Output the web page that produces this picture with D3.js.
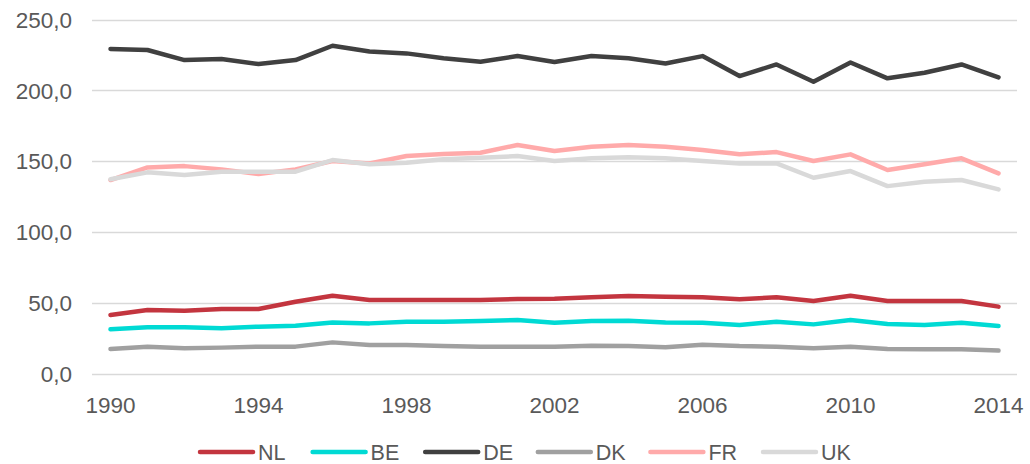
<!DOCTYPE html>
<html>
<head>
<meta charset="utf-8">
<script src="https://cdn.jsdelivr.net/npm/d3@7"></script>
<style>
  body { margin: 0; background: #fff; }
  svg { display: block; font-family: "Liberation Sans", Arial, sans-serif; }
</style>
</head>
<body>
<div id="chart"></div>
<script>
const years = d3.range(1990, 2015);
const xTickYears = [1990, 1994, 1998, 2002, 2006, 2010, 2014];
const yTicks = [0, 50, 100, 150, 200, 250];

const NL = [41.6, 45.1, 44.6, 45.8, 45.8, 51.0, 55.2, 52.2, 52.2, 52.2, 52.2, 52.9, 53.0,
            54.1, 55.0, 54.5, 54.1, 52.7, 54.1, 51.5, 55.2, 51.5, 51.5, 51.5, 47.5];
const BE = [31.5, 32.9, 32.9, 32.2, 33.4, 34.1, 36.4, 35.7, 36.9, 36.9, 37.4, 38.1, 36.2,
            37.4, 37.6, 36.4, 36.2, 34.5, 36.9, 35.0, 38.1, 35.3, 34.5, 36.2, 33.8];
const DE = [229.2, 228.5, 221.4, 222.1, 218.6, 221.4, 231.5, 227.5, 226.1, 222.6, 220.2, 224.2, 220.0,
            224.2, 222.6, 219.0, 224.2, 210.1, 218.3, 206.1, 219.7, 208.5, 212.4, 218.3, 209.2];
const DK = [17.6, 19.3, 18.1, 18.6, 19.3, 19.3, 22.3, 20.4, 20.4, 19.7, 19.3, 19.3, 19.3,
            20.0, 19.7, 18.8, 20.7, 19.7, 19.3, 18.1, 19.3, 17.6, 17.4, 17.4, 16.5];
const FR = [136.8, 145.7, 146.6, 144.3, 141.0, 144.3, 150.2, 148.5, 153.7, 155.1, 156.0, 161.5, 157.3,
            160.3, 161.5, 160.3, 158.0, 154.9, 156.5, 150.2, 154.9, 143.9, 147.9, 152.1, 141.5];
const UK = [137.3, 142.2, 140.3, 142.7, 142.7, 142.7, 150.9, 147.9, 149.0, 151.4, 152.5, 153.7, 150.2,
            152.1, 152.8, 152.1, 150.2, 148.5, 148.5, 138.4, 143.1, 132.5, 135.6, 136.8, 130.2];

const seriesNames = ["NL", "BE", "DE", "DK", "FR", "UK"];
const seriesValues = [NL, BE, DE, DK, FR, UK];
const colors = ["#C3353F", "#00DAD4", "#404040", "#A0A0A0", "#FFAAAA", "#D9D9D9"];

const width = 1030, height = 464;

const svg = d3.select("#chart").append("svg")
    .attr("width", width)
    .attr("height", height);

const x = d3.scalePoint().domain(years).range([92, 1017]).padding(0.5);
const y = d3.scaleLinear().domain([0, 250]).range([374, 19.5]);
const fmt = v => d3.format(".1f")(v).replace(".", ",");

// gridlines
svg.append("g")
    .selectAll("line")
    .data(yTicks)
    .join("line")
    .attr("x1", 92).attr("x2", 1017)
    .attr("y1", d => Math.round(y(d)) + 0.5)
    .attr("y2", d => Math.round(y(d)) + 0.5)
    .attr("stroke", "#D9D9D9")
    .attr("stroke-width", 1.3);

// y labels
svg.append("g")
    .selectAll("text")
    .data(yTicks)
    .join("text")
    .attr("x", 72)
    .attr("y", d => y(d))
    .attr("dy", "0.36em")
    .attr("text-anchor", "end")
    .attr("fill", "#595959")
    .attr("font-size", 22.5)
    .text(fmt);

// x labels
svg.append("g")
    .selectAll("text")
    .data(xTickYears)
    .join("text")
    .attr("x", d => x(d))
    .attr("y", 413)
    .attr("text-anchor", "middle")
    .attr("fill", "#595959")
    .attr("font-size", 22.5)
    .text(d => d);

const line = d3.line()
    .x((d, i) => x(years[i]))
    .y(d => y(d));

svg.append("g")
    .selectAll("path")
    .data(seriesValues)
    .join("path")
    .attr("d", line)
    .attr("fill", "none")
    .attr("stroke", (d, i) => colors[i])
    .attr("stroke-width", 4.5)
    .attr("stroke-linejoin", "round")
    .attr("stroke-linecap", "round");

// legend
const legend = svg.append("g")
    .selectAll("g")
    .data(seriesNames)
    .join("g")
    .attr("transform", (d, i) => `translate(${200 + i * 112.6},452)`);

legend.append("line")
    .attr("x1", 0).attr("x2", 53)
    .attr("stroke", (d, i) => colors[i])
    .attr("stroke-width", 4.5)
    .attr("stroke-linecap", "round");

legend.append("text")
    .attr("x", 58)
    .attr("y", 7.5)
    .attr("fill", "#595959")
    .attr("font-size", 21.5)
    .text(d => d);
</script>
</body>
</html>
